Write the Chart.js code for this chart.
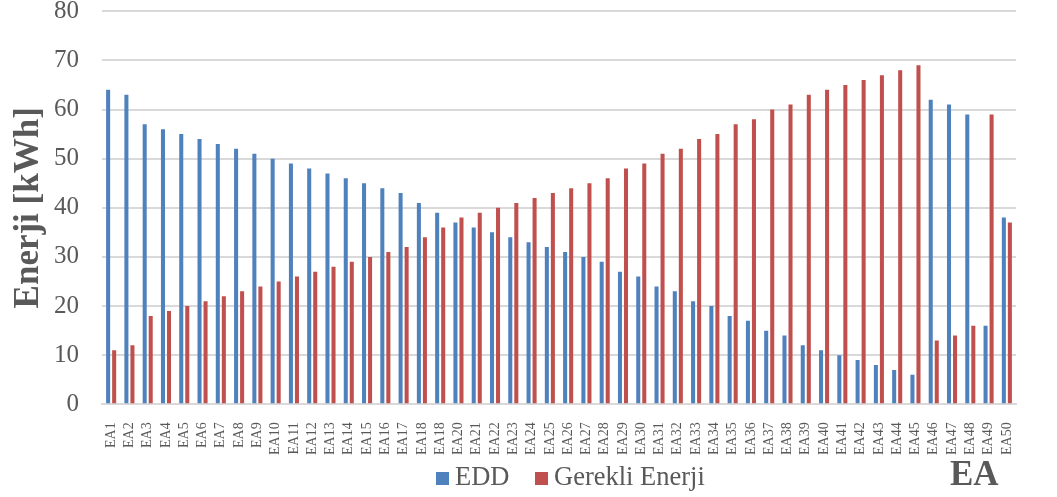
<!DOCTYPE html>
<html>
<head>
<meta charset="utf-8">
<script src="https://cdn.jsdelivr.net/npm/chart.js@4/dist/chart.umd.min.js"></script>
<style>
  body { margin: 0; background: #fff; }
  #wrap { position: relative; width: 1057px; height: 497px; }
  #legend {
    position: absolute; left: 0; top: 461px; height: 30px; width: 1057px;
    font-family: 'Liberation Serif', 'Times New Roman', serif;
    font-size: 26.5px; color: #595959;
  }
  .item { position: absolute; top: 0; line-height: 30px; white-space: nowrap; }
  .box { display: inline-block; width: 13px; height: 13px; margin-right: 6px; vertical-align: 0px; }
</style>
</head>
<body>
<div id="wrap">
  <canvas id="energyChart" width="1057" height="497"></canvas>
  <div id="legend"></div>
</div>
<script>
const color = {
  Blue: "#4F81BD",
  Red: "#C0504D",
  Grid: "#D9D9D9",
  Text: "#595959",
  None: "rgba(0,0,0,0)",
};

// tick labels as printed in the figure (the 19th one really reads EA18)
const labels = [
  "EA1", "EA2", "EA3", "EA4", "EA5", "EA6", "EA7", "EA8", "EA9", "EA10",
  "EA11", "EA12", "EA13", "EA14", "EA15", "EA16", "EA17", "EA18", "EA18", "EA20",
  "EA21", "EA22", "EA23", "EA24", "EA25", "EA26", "EA27", "EA28", "EA29", "EA30",
  "EA31", "EA32", "EA33", "EA34", "EA35", "EA36", "EA37", "EA38", "EA39", "EA40",
  "EA41", "EA42", "EA43", "EA44", "EA45", "EA46", "EA47", "EA48", "EA49", "EA50",
];

const eddValues = [
  64, 63, 57, 56, 55, 54, 53, 52, 51, 50,
  49, 48, 47, 46, 45, 44, 43, 41, 39, 37,
  36, 35, 34, 33, 32, 31, 30, 29, 27, 26,
  24, 23, 21, 20, 18, 17, 15, 14, 12, 11,
  10, 9, 8, 7, 6, 62, 61, 59, 16, 38,
];

const gerekliValues = [
  11, 12, 18, 19, 20, 21, 22, 23, 24, 25,
  26, 27, 28, 29, 30, 31, 32, 34, 36, 38,
  39, 40, 41, 42, 43, 44, 45, 46, 48, 49,
  51, 52, 54, 55, 57, 58, 60, 61, 63, 64,
  65, 66, 67, 68, 69, 13, 14, 16, 59, 37,
];

const yTicks = [0, 10, 20, 30, 40, 50, 60, 70, 80];

const serif = "'Liberation Serif', 'Times New Roman', serif";

const barConfig = {
  type: "bar",
  data: {
    labels: labels,
    datasets: [
      {
        label: "EDD",
        data: eddValues,
        backgroundColor: color.Blue,
        borderWidth: 0,
        categoryPercentage: 0.66,
        barPercentage: 0.67,
      },
      {
        label: "Gerekli Enerji",
        data: gerekliValues,
        backgroundColor: color.Red,
        borderWidth: 0,
        categoryPercentage: 0.66,
        barPercentage: 0.67,
      },
    ],
  },
  options: {
    responsive: false,
    animation: false,
    layout: {
      padding: { left: 0, right: 41, top: 0, bottom: 0 },
    },
    plugins: {
      tooltip: { enabled: false },
      legend: { display: false },
    },
    scales: {
      x: {
        // ticks.padding counts twice in chart.js, so the gap is made with an invisible tick mark
        grid: { color: color.None, drawTicks: true, tickLength: 18 },
        border: { display: true, color: color.Grid, width: 2 },
        ticks: {
          autoSkip: false,
          maxRotation: 90,
          minRotation: 90,
          padding: 0,
          color: color.Text,
          font: { family: serif, size: 14 },
        },
        title: {
          display: true,
          text: "EA  ", // trailing spaces pull the text in from the right edge
          align: "end",
          color: color.Text,
          font: { family: serif, size: 35, weight: "bold", lineHeight: 1.2 },
          padding: { top: 0, bottom: 0 },
        },
      },
      y: {
        min: 0,
        max: 80,
        afterBuildTicks: (axis) => {
          axis.ticks = yTicks.map((v) => ({ value: v }));
        },
        grid: { color: color.Grid, lineWidth: 2, drawTicks: true, tickLength: 23, tickColor: color.None },
        border: { display: false },
        ticks: {
          padding: 0,
          color: color.Text,
          font: { family: serif, size: 25, lineHeight: 0.9 },
        },
        title: {
          display: true,
          text: "Enerji [kWh]",
          color: color.Text,
          font: { family: serif, size: 35, weight: "bold", lineHeight: 1.0 },
          padding: { top: 11, bottom: 8 },
        },
      },
    },
  },
};

const energyChart = new Chart(document.getElementById("energyChart"), barConfig);

// legend as html, built from the datasets
const legendLeft = [436, 535];
const legendBox = document.getElementById("legend");
barConfig.data.datasets.forEach((ds, i) => {
  const item = document.createElement("div");
  item.className = "item";
  item.style.left = legendLeft[i] + "px";
  const box = document.createElement("span");
  box.className = "box";
  box.style.background = ds.backgroundColor;
  item.appendChild(box);
  item.appendChild(document.createTextNode(ds.label));
  legendBox.appendChild(item);
});
</script>
</body>
</html>
